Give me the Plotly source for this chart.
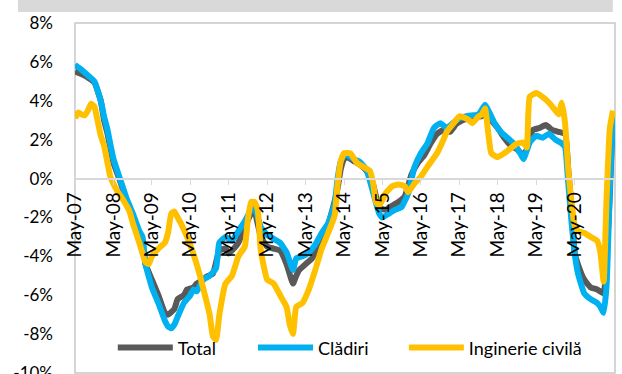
import plotly.graph_objects as go
import pandas as pd

# months counted from May 2007
total_m = [0, 3, 6, 8, 9, 10, 12, 14, 17, 19, 21, 22, 24, 26, 28, 29, 31, 32, 34, 35, 37, 38, 40, 41, 43, 45, 47, 48, 49, 51,
           53, 55, 56, 58, 60, 62, 64, 66, 68, 69, 70, 72, 74, 76, 78, 80, 82, 83, 84, 85, 87, 89, 91, 93, 95, 97, 99, 101, 103, 105,
           107, 109, 111, 113, 115, 117, 119, 121, 123, 125, 127, 128, 129, 130, 132, 134, 136, 138, 140, 141, 143, 145, 147, 149, 151, 153, 154, 155, 156,
           157, 159, 161, 163, 165, 166, 167, 168]
total_v = [5.5, 5.3, 4.95, 4.0, 3.0, 2.4, 0.8, -0.1, -1.6, -2.5, -3.3, -4.4, -5.2, -6.0, -6.9, -7.0, -6.7, -6.2, -6.0, -5.7, -5.6, -5.4, -5.2, -5.05, -4.9, -3.7, -3.6, -3.85, -3.7, -3.3,
           -2.5, -1.8, -1.7, -3.0, -3.5, -3.6, -3.7, -4.4, -5.4, -5.0, -4.7, -4.4, -4.1, -3.5, -2.9, -1.8, -0.5, 0.5, 1.0, 1.1, 0.9, 0.7, 0.4, -0.3, -1.5, -1.6, -1.4, -1.2, -0.9, 0.2,
           0.8, 1.2, 1.8, 2.3, 2.5, 2.4, 2.8, 3.0, 3.1, 3.2, 3.2, 3.6, 3.4, 3.0, 2.6, 2.1, 1.7, 1.5, 1.2, 1.5, 2.5, 2.6, 2.75, 2.5, 2.4, 2.3, 0.5, -1.5, -3.8,
           -4.4, -5.2, -5.6, -5.7, -5.9, -4.0, -0.8, 3.4]

cladiri_m = [0, 2, 4, 6, 8, 9, 10, 12, 14, 16, 18, 20, 21, 22, 24, 26, 28, 29, 30, 31, 32, 34, 36, 37, 38, 40, 42, 44, 45, 47,
             49, 51, 53, 55, 56, 58, 60, 62, 64, 66, 68, 69, 71, 73, 75, 77, 79, 81, 82, 83, 84, 85, 87, 89, 91, 93, 95, 96, 98, 100,
             102, 104, 106, 108, 110, 112, 114, 116, 118, 120, 122, 124, 126, 128, 129, 131, 133, 135, 137, 139, 140, 142, 144, 146, 148, 150, 152, 153,
             154, 155, 156, 157, 159, 161, 163, 164, 165, 166, 167, 168]
cladiri_v = [5.85, 5.6, 5.3, 5.0, 4.0, 3.2, 2.6, 1.0, 0.0, -1.0, -1.8, -2.7, -3.0, -4.4, -5.6, -6.4, -7.3, -7.6, -7.7, -7.5, -7.1, -6.4, -6.0, -5.7, -5.8, -5.2, -5.0, -4.6, -3.3, -3.0,
             -3.2, -2.7, -2.2, -1.6, -1.5, -2.5, -2.9, -3.1, -3.3, -3.8, -4.7, -4.1, -4.0, -3.8, -3.4, -2.8, -2.3, -1.3, 0.0, 0.9, 1.2, 1.2, 1.0, 0.85, 0.45, -0.7, -1.8, -2.0, -1.8, -1.6,
             -1.45, -0.75, 0.6, 1.3, 1.8, 2.6, 2.85, 2.6, 2.85, 3.1, 3.2, 3.25, 3.3, 3.8, 3.5, 2.85, 2.4, 2.1, 1.8, 1.3, 1.0, 1.85, 2.2, 2.1, 2.3, 2.0, 1.8, 1.6,
             -0.2, -2.2, -3.8, -4.86, -5.9, -6.2, -6.4, -6.6, -6.9, -5.5, -0.5, 3.3]

inginerie_m = [0, 1, 2, 3, 4, 5, 6, 7, 8, 9, 11, 13, 15, 17, 18, 20, 22, 23, 24, 26, 28, 29, 30, 31, 32, 33, 35, 37, 39, 41,
               42, 43, 44, 45, 47, 49, 51, 53, 54, 55, 56, 57, 58, 60, 62, 64, 66, 67, 68, 69, 71, 73, 75, 77, 79, 81, 82, 83, 84, 86,
               88, 90, 92, 93, 94, 95, 97, 99, 101, 103, 104, 106, 108, 110, 113, 115, 116, 118, 120, 122, 123, 124, 126, 127, 128, 129, 130,
               132, 134, 136, 138, 140, 141, 142, 144, 146, 148, 150, 151, 152, 153, 154, 155, 156, 157, 159, 161, 163, 164, 165, 166, 167, 168]
inginerie_v = [3.1, 3.4, 3.3, 3.25, 3.5, 3.85, 3.7, 3.0, 2.2, 1.7, 0.1, -0.6, -1.1, -1.7, -2.3, -3.3, -4.3, -4.4, -4.0, -3.6, -3.3, -2.8, -1.8, -1.7, -2.0, -2.3, -3.0, -3.9, -5.0, -6.3,
               -7.0, -8.1, -8.3, -7.0, -5.4, -5.0, -4.0, -3.5, -2.0, -1.2, -1.2, -1.6, -3.7, -5.2, -5.4, -6.0, -6.6, -7.5, -8.0, -6.6, -6.4, -5.7, -4.7, -3.6, -2.8, -1.9, -0.3, 0.9, 1.3, 1.3,
               0.8, 0.6, 0.4, -0.2, -1.2, -1.4, -0.75, -0.4, -0.3, -0.4, -0.7, -0.25, 0.1, 0.6, 1.3, 2.0, 2.4, 2.8, 3.2, 3.1, 3.0, 2.85, 3.2, 3.3, 3.6, 2.3, 1.3,
               1.1, 1.3, 1.55, 1.8, 1.85, 1.6, 4.2, 4.4, 4.2, 3.9, 3.5, 3.3, 3.9, 2.8, 0.5, -1.2, -2.4, -2.7, -2.8, -3.0, -3.2, -3.8, -5.3, -1.0, 2.6, 3.5]

series_names = ["Total", "Clădiri", "Inginerie civilă"]
series_colors = ["#595959", "#00B0F0", "#FFC000"]

y_tickvals = [-10, -8, -6, -4, -2, 0, 2, 4, 6, 8]
y_ticktext = ["-10%", "-8%", "-6%", "-4%", "-2%", "0%", "2%", "4%", "6%", "8%"]
x_tick_years = list(range(2007, 2022))
x_ticktext = ["May-%02d" % (y % 100) for y in x_tick_years]

start = pd.Timestamp("2007-05-01")


def to_dates(months):
    return [start + pd.DateOffset(months=m) for m in months]


FONT = "Lato"
fig = go.Figure()
data = [(total_m, total_v), (cladiri_m, cladiri_v), (inginerie_m, inginerie_v)]
legend_ids = ["legend", "legend2", "legend3"]
for (m, v), name, col, lg in zip(data, series_names, series_colors, legend_ids):
    fig.add_trace(go.Scatter(x=to_dates(m), y=v, mode="lines", name=name,
                             line=dict(color=col, width=6, shape="spline", smoothing=0.4),
                             legend=lg, showlegend=True))

leg_x = [0.070, 0.3296, 0.609]
common_leg = dict(orientation="h", yanchor="middle", y=0.072, xanchor="left", visible=True,
                  bgcolor="rgba(0,0,0,0)", font=dict(family=FONT, size=18, color="#000000"),
                  itemwidth=55, borderwidth=0)
fig.update_layout(
    showlegend=True,
    legend=dict(x=leg_x[0], **common_leg),
    legend2=dict(x=leg_x[1], **common_leg),
    legend3=dict(x=leg_x[2], **common_leg),
)

fig.update_layout(
    width=622, height=374,
    margin=dict(l=75, r=7, t=23, b=1, autoexpand=False),
    paper_bgcolor="white", plot_bgcolor="white",
    font=dict(family=FONT, size=17, color="#000000"),
    xaxis=dict(type="date", range=["2007-05-01", "2021-05-20"],
               tickvals=[pd.Timestamp(f"{y}-05-01") for y in x_tick_years], ticktext=x_ticktext,
               tickangle=-90, tickfont=dict(family=FONT, size=19, color="#000000"),
               anchor="free", position=10 / 18, showgrid=False, zeroline=False,
               showline=True, linecolor="#d9d9d9", linewidth=2, automargin=False,
               ticks="outside", ticklen=5, tickcolor="#d9d9d9"),
    yaxis=dict(range=[-10, 8], tickvals=y_tickvals, ticktext=y_ticktext,
               showgrid=False, zeroline=False, showline=False, automargin=False,
               tickfont=dict(family=FONT, size=17, color="#000000"),
               ticks="", ticklabelstandoff=21, ticklabeloverflow="allow"),
    shapes=[
        dict(type="rect", xref="paper", yref="paper", x0=0, x1=1, y0=0, y1=1,
             line=dict(color="#c8c8c8", width=1.5), fillcolor="rgba(0,0,0,0)", layer="below"),
        dict(type="rect", xref="paper", yref="paper", x0=-0.1056, x1=0.996, y0=1.0314, y1=1.2,
             line=dict(width=0), fillcolor="#d9d9d9"),
    ],
)

fig.write_html("out.html")
